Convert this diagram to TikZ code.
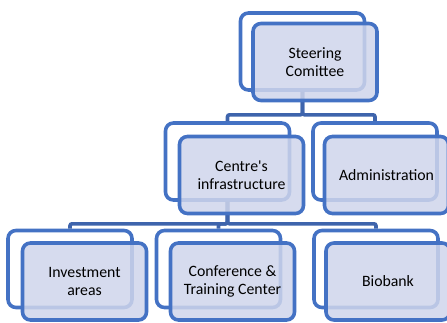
\documentclass[tikz,border=0pt]{standalone}
\usepackage{fontspec}
\setmainfont{Carlito}
\usetikzlibrary{shapes,arrows}

\definecolor{cadre}{RGB}{68,114,196}
\definecolor{fond}{RGB}{207,213,235}
\definecolor{lien}{RGB}{62,100,172}

\begin{document}
\begin{tikzpicture}[x=1pt,y=-1pt]
	\tikzstyle{arriere}=[rectangle,draw=cadre,line width=3.6pt,rounded
	corners=8pt,minimum width=124pt,minimum height=77pt]
	\tikzstyle{avant}=[rectangle,draw=cadre,line width=3.6pt,rounded
	corners=8pt,minimum width=124pt,minimum height=77pt,fill=fond,
	fill opacity=0.85,text opacity=1,text=black,align=center,
	font=\fontsize{15.8}{17.5}\selectfont]
	\tikzstyle{suite}=[draw=lien,line width=3.6pt,rounded corners=2pt]

	\useasboundingbox (0,0) rectangle (447,322);

	% cadres arriere
	\node[arriere] (sc-b) at (302.5,51.5) {};
	\node[arriere] (ci-b) at (227.5,161.5) {};
	\node[arriere] (ad-b) at (375,161.5) {};
	\node[arriere] (ia-b) at (70,269) {};
	\node[arriere] (ct-b) at (218.5,269) {};
	\node[arriere] (bb-b) at (376,269) {};

	% liens
	\draw[suite] (sc-b.south) -- ++(0,23) -| (ci-b.north);
	\draw[suite] (sc-b.south) -- ++(0,23) -| (ad-b.north);
	\draw[suite] (ci-b.south) -- ++(0,22) -| (ia-b.north);
	\draw[suite] (ci-b.south) -- ++(0,22) -| (ct-b.north);
	\draw[suite] (ci-b.south) -- ++(0,22) -| (bb-b.north);

	% cadres avant
	\node[avant] (sc) at (315,62) {Steering\\Comittee};
	\node[avant] (ci) at (241.5,175) {Centre\textquotesingle s\\infrastructure};
	\node[avant] (ad) at (386.5,175) {Administration};
	\node[avant] (ia) at (84.5,281.5) {Investment\\areas};
	\node[avant] (ct) at (232.5,281.5) {Conference \&\\Training Center};
	\node[avant] (bb) at (388,281.5) {Biobank};
\end{tikzpicture}
\end{document}
